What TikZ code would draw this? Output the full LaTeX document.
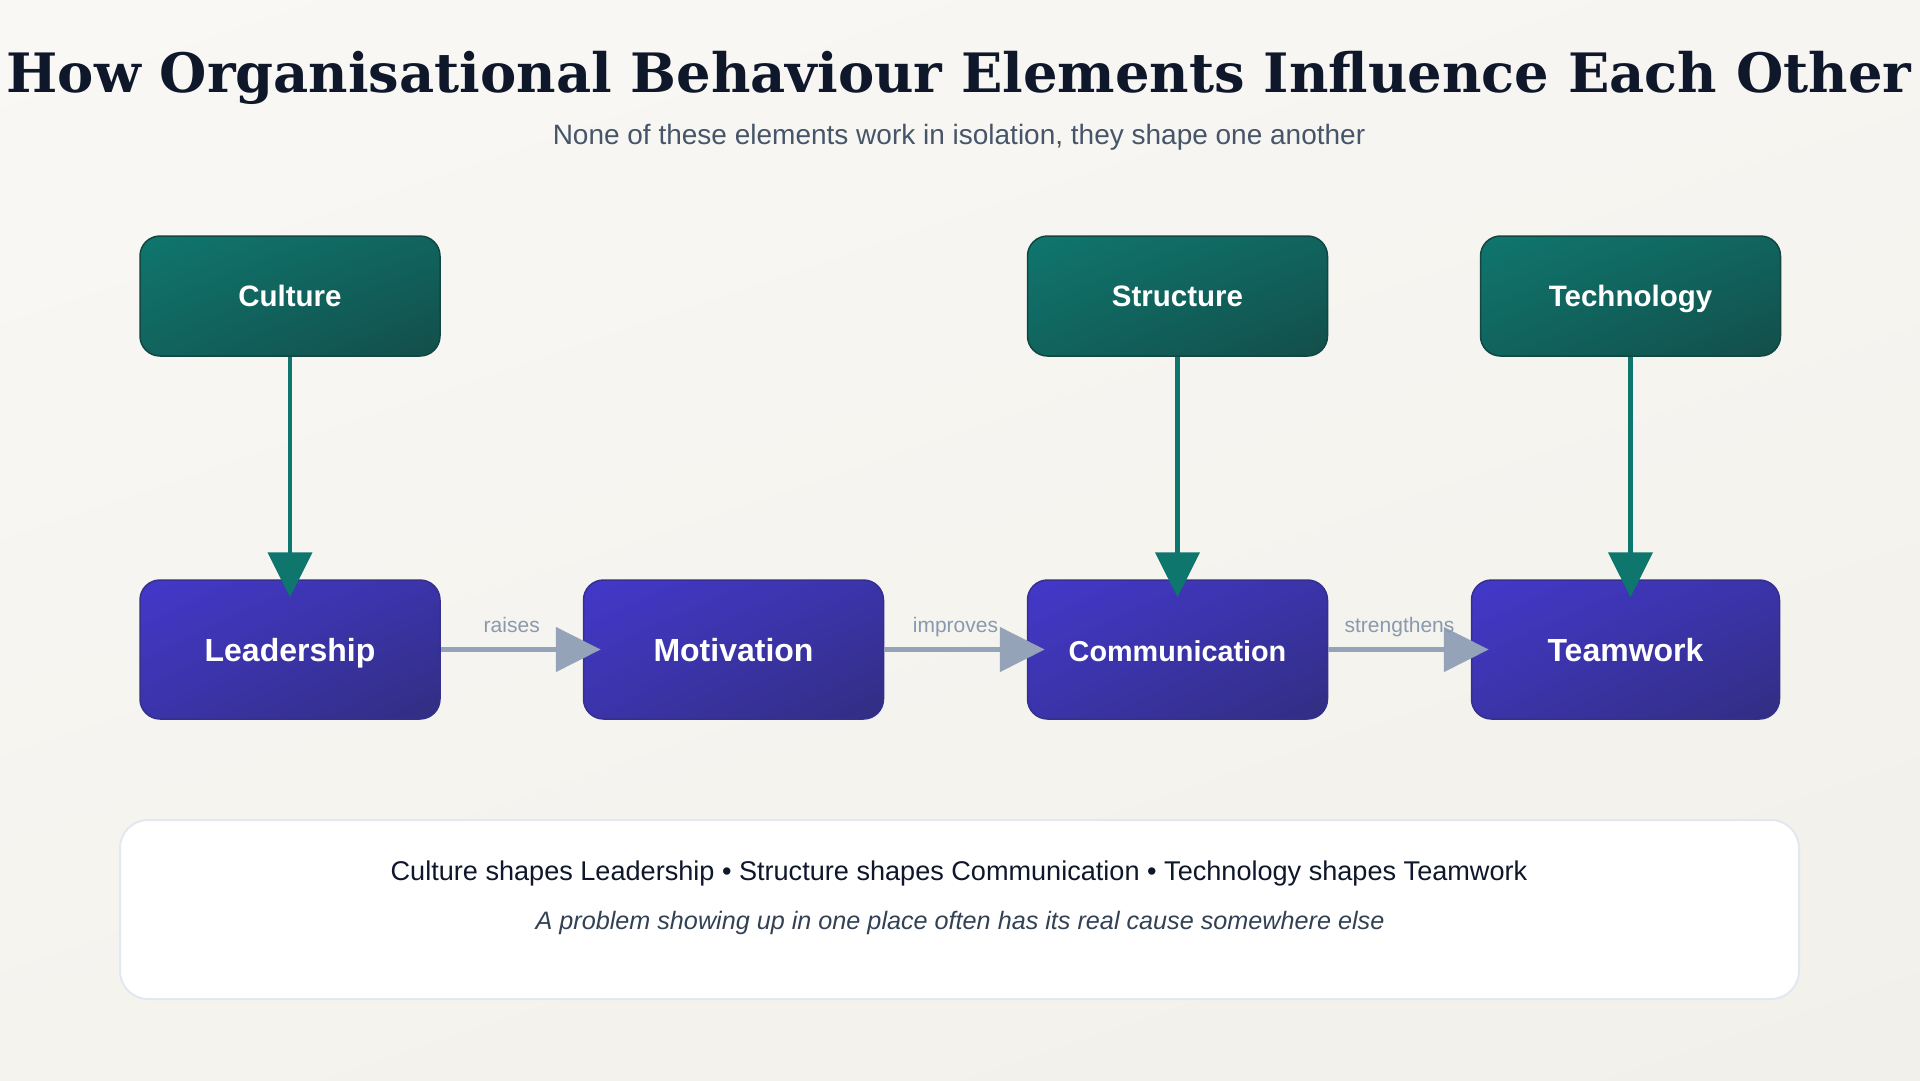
\documentclass[tikz,border=0pt]{standalone}
\usepackage{fontspec}
\setmainfont{Liberation Sans}
\newfontfamily\titlefont{DejaVu Serif}
\usetikzlibrary{arrows.meta, shadings, calc}

\definecolor{tealtop}{HTML}{0F766E}
\definecolor{tealbot}{HTML}{134E4A}
\definecolor{indtop}{HTML}{4338CA}
\definecolor{indbot}{HTML}{312E81}
\definecolor{inkdark}{HTML}{0F172A}
\definecolor{inkslate}{HTML}{475569}
\definecolor{inkmid}{HTML}{334155}
\definecolor{linkgray}{HTML}{94A3B8}
\definecolor{labelgray}{HTML}{8A99AE}
\definecolor{panelline}{HTML}{E2E8F0}
\definecolor{bgul}{HTML}{F9F8F5}
\definecolor{bgur}{HTML}{F6F5F1}
\definecolor{bgll}{HTML}{F4F3EE}
\definecolor{bglr}{HTML}{F1F0EA}

\begin{document}
\begin{tikzpicture}[x=1pt, y=-1pt,
    elem/.style={rounded corners=20pt, inner sep=0pt, line width=1.5pt,
        text=white, font=\fontsize{29.5}{34}\selectfont\bfseries,
        text height=21pt, text depth=0pt},
    driver/.style={elem, draw=tealbot!90!black, upper left=tealtop,
        upper right=tealtop!55!tealbot, lower left=tealtop!55!tealbot,
        lower right=tealbot, minimum width=300pt, minimum height=120pt},
    outcome/.style={elem, draw=indbot!85!indtop, upper left=indtop,
        upper right=indtop!55!indbot, lower left=indtop!55!indbot,
        lower right=indbot, minimum width=300pt, minimum height=139pt,
        font=\fontsize{32}{38}\selectfont\bfseries, text height=23pt},
    shapes/.style={line width=4.5pt, draw=tealtop,
        -{Triangle[length=45pt, width=44pt]}},
    feeds/.style={line width=5pt, draw=linkgray,
        -{Triangle[length=45pt, width=44pt]}},
    verb/.style={font=\fontsize{21}{25}\selectfont, text=labelgray,
        anchor=base, yshift=17.5pt, inner sep=0pt}]

    % --- Background ---
    \useasboundingbox (0,0) rectangle (1920,1080);
    \shade[upper left=bgul, upper right=bgur, lower left=bgll, lower right=bglr]
        (0,0) rectangle (1920,1080);

    % --- Heading ---
    \node[anchor=base, inner sep=0pt, text=inkdark,
        font=\titlefont\fontsize{54.3}{62}\selectfont\bfseries] (title) at (959,92)
        {How Organisational Behaviour Elements Influence Each Other};
    \node[anchor=base, inner sep=0pt, text=inkslate,
        font=\fontsize{28}{32}\selectfont] (subtitle) at (959,144)
        {None of these elements work in isolation, they shape one another};

    % --- Drivers (top row) ---
    \node[driver] (culture)    at (290,296)    {Culture};
    \node[driver] (structure)  at (1177.5,296) {Structure};
    \node[driver] (technology) at (1630.5,296) {Technology};

    % --- Outcomes (bottom row) ---
    \node[outcome] (leadership)    at (290,649.5)    {Leadership};
    \node[outcome] (motivation)    at (733.5,649.5)  {Motivation};
    \node[outcome, font=\fontsize{28.8}{34}\selectfont\bfseries, text height=24pt]
        (communication) at (1177.5,649.5) {Communication};
    \node[outcome, minimum width=308pt] (teamwork) at (1625.5,649.5) {Teamwork};

    % --- Downward influence ---
    \draw[shapes] (culture.south)    -- ([yshift=-18pt]leadership.north);
    \draw[shapes] (structure.south)  -- ([yshift=-18pt]communication.north);
    \draw[shapes] (technology.south) -- ($(technology.south |- teamwork.north) + (0,18)$);

    % --- Chain along the bottom ---
    \draw[feeds] (leadership.east)    -- ([xshift=18pt]motivation.west);
    \draw[feeds] (motivation.east)    -- ([xshift=18pt]communication.west);
    \draw[feeds] (communication.east) -- ([xshift=18pt]teamwork.west);
    \path (leadership.east)    -- (motivation.west)    node[midway, verb] (raises) {raises};
    \path (motivation.east)    -- (communication.west) node[midway, verb] (improves) {improves};
    \path (communication.east) -- (teamwork.west)      node[midway, verb] (strengthens) {strengthens};

    % --- Summary panel ---
    \draw[fill=white, draw=panelline, line width=2pt, rounded corners=28pt]
        (120,820) rectangle (1799,999);
    \node[anchor=base, inner sep=0pt, text=inkdark,
        font=\fontsize{27.1}{32}\selectfont] (summary) at (959,880)
        {Culture shapes Leadership • Structure shapes Communication • Technology shapes Teamwork};
    \node[anchor=base, inner sep=0pt, text=inkmid,
        font=\fontsize{25.2}{30}\selectfont\itshape] (moral) at (960,929)
        {A problem showing up in one place often has its real cause somewhere else};

\end{tikzpicture}
\end{document}
